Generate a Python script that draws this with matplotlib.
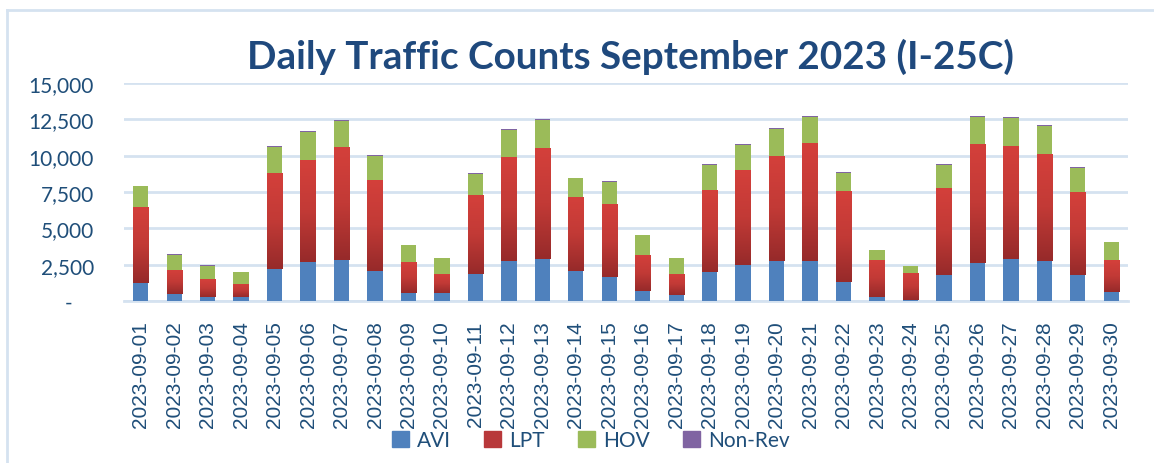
import matplotlib.pyplot as plt
import numpy as np
from matplotlib.patches import Patch
from matplotlib.lines import Line2D
from matplotlib.colors import LinearSegmentedColormap

# ---- data ----
dates = [f"2023-09-{d:02d}" for d in range(1, 31)]
avi = [1260, 460, 300, 250, 2220, 2660, 2840, 2040, 570, 530,
       1880, 2770, 2910, 2060, 1650, 660, 410, 1990, 2450, 2730,
       2770, 1330, 250, 90, 1760, 2630, 2860, 2730, 1810, 640]
lpt = [5240, 1690, 1210, 940, 6620, 7050, 7740, 6300, 2110, 1350,
       5380, 7170, 7620, 5130, 5040, 2520, 1470, 5660, 6570, 7280,
       8110, 6250, 2590, 1860, 6030, 8200, 7810, 7410, 5700, 2150]
hov = [1380, 1010, 920, 780, 1790, 1950, 1830, 1640, 1140, 1050,
       1510, 1830, 1930, 1240, 1510, 1330, 1050, 1740, 1740, 1830,
       1810, 1260, 640, 430, 1600, 1860, 1950, 1930, 1650, 1240]
nonrev = [60, 40, 50, 50, 60, 60, 60, 60, 50, 40,
          50, 60, 60, 50, 30, 50, 40, 60, 60, 60,
          60, 50, 40, 40, 50, 60, 60, 60, 50, 50]
yticks = [0, 2500, 5000, 7500, 10000, 12500, 15000]
ylabels = ["-    ", "2,500", "5,000", "7,500", "10,000", "12,500", "15,000"]

TXT = "#1F4E79"
GRID = "#D5E2F0"
C_AVI, C_LPT, C_HOV, C_NR = "#4F81BD", "#C0504D", "#9BBB59", "#8064A2"

fig = plt.figure(figsize=(11.54, 4.64), dpi=100)
ax = fig.add_axes([124 / 1154, 162 / 464, 1004 / 1154, 218 / 464])

x = np.arange(len(dates))
w = 0.46
avi_a, lpt_a, hov_a, nr_a = map(np.array, (avi, lpt, hov, nonrev))

ax.bar(x, avi_a, w, color=C_AVI, zorder=3)
red_bars = ax.bar(x, lpt_a, w, bottom=avi_a, color=C_LPT, zorder=3)
ax.bar(x, hov_a, w, bottom=avi_a + lpt_a, color=C_HOV, zorder=3)
ax.bar(x, nr_a, w, bottom=avi_a + lpt_a + hov_a, color=C_NR, zorder=3)

# red gradient (lighter on top, darker at bottom)
red_cmap = LinearSegmentedColormap.from_list("red", ["#962A2A", "#C23A36", "#D4403B"])
grad = np.linspace(0, 1, 256).reshape(-1, 1)
for b in red_bars:
    x0, y0 = b.get_x(), b.get_y()
    im = ax.imshow(grad, cmap=red_cmap, origin="lower", aspect="auto",
                   extent=[x0, x0 + b.get_width(), y0, y0 + b.get_height()],
                   zorder=3.5, interpolation="bicubic")
    im.set_clip_path(b)

ax.set_xlim(-0.5, len(dates) - 0.5)
ax.set_ylim(0, 15000)
ax.set_yticks(yticks)
ax.set_yticklabels(ylabels, fontfamily="Lato", fontsize=15, color=TXT)
ax.set_xticks(x)
ax.set_xticklabels(dates, rotation=90, fontfamily="Liberation Sans", fontsize=15, color=TXT)
ax.tick_params(length=0)
ax.tick_params(axis="y", pad=21.5)
ax.tick_params(axis="x", pad=14)
ax.grid(axis="y", color=GRID, lw=2, zorder=0)
for s in ["top", "right", "left"]:
    ax.spines[s].set_visible(False)
ax.spines["bottom"].set_color(GRID)
ax.spines["bottom"].set_linewidth(2)

fig.text(630 / 1154, 1 - 57 / 464, "Daily Traffic Counts September 2023 (I-25C)",
         ha="center", va="center", fontsize=27.8, fontweight="bold",
         fontfamily="Lato", color="#1F497D")

handles = [Patch(color=C_AVI, label="AVI"), Patch(color="#B8383A", label="LPT"),
           Patch(color=C_HOV, label="HOV"), Patch(color=C_NR, label="Non-Rev")]
fig.legend(handles=handles, loc="center", bbox_to_anchor=(591 / 1154, 1 - 441 / 464),
           ncol=4, frameon=False, prop={"family": "Lato", "size": 15},
           labelcolor=TXT, handlelength=0.8, handleheight=0.8, columnspacing=1.6,
           handletextpad=0.4)

# chart frame (partially cropped in the original)
fig.add_artist(Line2D([7 / 1154, 7 / 1154], [0, 1 - 11 / 464], color=GRID, lw=2))
fig.add_artist(Line2D([7 / 1154, 1], [1 - 11 / 464, 1 - 11 / 464], color=GRID, lw=2))

fig.savefig("out.png", dpi=100)
